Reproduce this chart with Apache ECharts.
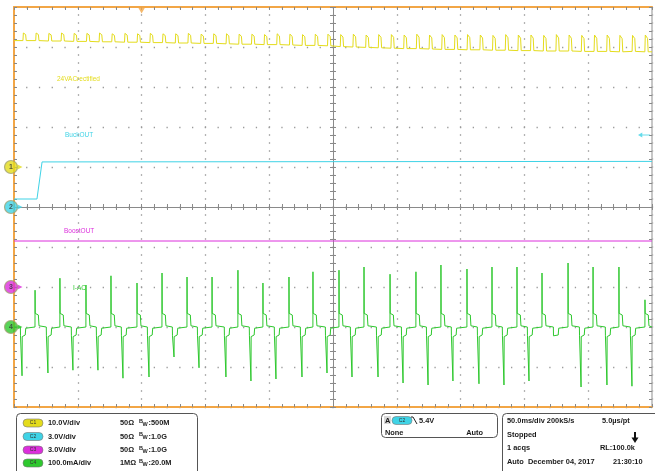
<!DOCTYPE html>
<html><head><meta charset="utf-8">
<script src="https://cdn.jsdelivr.net/npm/echarts@6.0.0/dist/echarts.min.js"></script>
<style>html,body{margin:0;padding:0;background:#fff}#c{width:655px;height:471px}</style>
</head><body><div id="c"></div>
<script>
// ---- scope settings ----
const timePerDiv = 50;          // ms/div
const centerTime = 150;         // ms at screen centre (trigger at -3 div)
const triggerTime = 0;
const channelNames = ['24VACrectified', 'BuckOUT', 'BoostOUT', 'I-AC'];
const channelScales = [10, 3, 3, 100];     // V/div, V/div, V/div, mA/div
const channelOffsets = [1, 0, -2, -3];     // ground position in divisions
const channelColors = ['#e4dc1c', '#3fd3e6', '#dc2edc', '#2ec82e'];
const triggerLevel = 5.4;                  // V on C2

// ---- C1: 24VAC rectified (V) ----
const c1PulseTimes = [-93,-83,-73,-63.1,-53.2,-43.2,-33.3,-23.4,-13.4,-3.5,
  6.5,16.4,26.4,36.3,46.3,56.2,66.2,76.1,86.1,96,
  105.9,115.9,125.8,135.8,145.7,155.7,165.6,175.6,185.5,195.4,
  205.4,215.3,225.3,235.2,245.2,255.1,265.1,275,285,294.9,
  304.8,314.8,324.7,334.7,344.6,354.6,364.5,374.5,384.4,394.4];
const c1Base = [31.6,31.6,31.5,31.5,31.4,31.4,31.3,31.3,31.2,31.2,
  31.1,31.1,31.0,31.0,30.9,30.9,30.8,30.7,30.7,30.6,
  30.6,30.5,30.4,30.4,30.3,30.1,30.0,29.9,29.8,29.7,
  29.6,29.6,29.5,29.4,29.4,29.3,29.3,29.2,29.2,29.1,
  29.1,29.0,29.0,29.0,28.9,28.9,28.9,28.8,28.9,28.8];
const c1Top = [33.5,33.5,33.4,33.5,33.4,33.4,33.5,33.3,33.4,33.3,
  33.4,33.3,33.3,33.4,33.2,33.3,33.3,33.2,33.2,33.1,
  33.3,33.2,33.1,33.2,33.2,33.1,33.2,33.0,33.1,33.1,
  33.0,33.2,33.0,33.1,33.0,33.1,33.0,32.9,33.1,33.0,
  33.0,32.9,33.1,33.0,32.9,33.0,33.0,32.9,32.9,33.0];

// ---- C2: BuckOUT (V) ----
const c2Points = [[-100, 0.6], [-82, 0.6], [-78, 3.38], [400, 3.42]];
// ---- C3: BoostOUT (V) ----
const c3Points = [[-100, 3.45], [400, 3.45]];

// ---- C4: I-AC (mA) ----
const c4PosTimes = [-83.5,-64,-43.6,-24,-3.6,16,35.6,55.2,75.5,95.1,115.5,134.3,154.7,
  174.3,194.7,215,234.6,255,274.6,294.2,313.8,334.2,353.8,374.1,394.5];
const c4PosPeaks = [92,122,105,128,110,135,125,125,142,110,125,138,142,
  150,132,138,155,145,150,150,135,160,150,150,68];
const c4NegTimes = [-93.7,-73.4,-53.8,-34.2,-14.6,5.8,25.4,45,66.1,85.7,105.3,125.7,145.3,
  164.9,185.3,204.9,224.5,244,264.4,284,303.6,324,344.4,364.7,384.3];
const c4NegPeaks = [-122,-115,-108,-108,-128,-125,-75,-102,-125,-135,-130,-125,-115,
  -125,-125,-140,-145,-135,-142,-145,-135,-22,-150,-145,-148];

// ---- conversion to screen divisions (scope display model) ----
const tx = t => (t - centerTime) / timePerDiv;
const vy = (v, ch) => v / channelScales[ch] + channelOffsets[ch];

function buildC1() {
  const pts = [[-100, c1Base[0]]];
  c1PulseTimes.forEach((t, i) => {
    const b = c1Base[i], top = c1Top[i], h = top - b;
    pts.push([t, b], [t + 0.35, top], [t + 0.8, top - 0.08 * h], [t + 2.1, top - 0.2 * h], [t + 2.6, b]);
  });
  pts.push([400, c1Base[c1Base.length - 1]]);
  return pts.map(p => [tx(p[0]), vy(p[1], 0)]);
}
function buildC4() {
  const ev = [];
  c4PosTimes.forEach((t, i) => ev.push({t, v: c4PosPeaks[i], pos: true}));
  c4NegTimes.forEach((t, i) => ev.push({t, v: c4NegPeaks[i], pos: false}));
  ev.sort((a, b) => a.t - b.t);
  const pts = [[-100, 0]];
  ev.forEach(e => {
    const t = e.t;
    if (e.pos) {
      pts.push([t - 0.05, 0], [t, e.v], [t + 0.15, 34], [t + 2.6, 30], [t + 3.1, 3], [t + 3.6, 0]);
    } else {
      pts.push([t - 1.3, 0], [t - 1.2, -22], [t - 0.1, -24], [t, e.v], [t + 0.15, -24], [t + 2.5, -20], [t + 2.9, -3], [t + 3.5, 0]);
    }
  });
  pts.push([400, 0]);
  return pts.map(p => [tx(p[0]), vy(p[1], 3)]);
}

const ORANGE = '#f2a646';
const GRID = '#9a9a9a';
function edgeAxis(pos, color) {
  return {
    type: 'value', min: -5, max: 5, interval: 1, position: pos,
    axisLine: {show: true, onZero: false, lineStyle: {color: color || ORANGE, width: 2}},
    axisTick: {show: true, inside: true, length: 3, lineStyle: {color: '#888'}},
    minorTick: {show: true, splitNumber: 5, length: 3, lineStyle: {color: '#888'}},
    axisLabel: {show: false}, splitLine: {show: false}
  };
}
function centerAxis(pos) {
  return {
    type: 'value', min: -5, max: 5, interval: 1, position: pos,
    axisLine: {show: true, onZero: true, onZeroAxisIndex: 0, lineStyle: {color: '#8a8a8a', width: 1}},
    axisTick: {show: true, inside: true, length: 3, lineStyle: {color: '#8a8a8a'}},
    minorTick: {show: true, splitNumber: 5, length: 3, lineStyle: {color: '#8a8a8a'}},
    axisLabel: {show: false}, splitLine: {show: false}
  };
}
const xA0 = edgeAxis('bottom');
xA0.splitLine = {show: true, lineStyle: {color: GRID, width: 1.3, type: [1.3, 6.7], dashOffset: 0.65}};
const yA0 = edgeAxis('left');
yA0.splitLine = {show: true, lineStyle: {color: GRID, width: 1.3, type: [1.3, 11.46], dashOffset: 0.65}};
const yA1 = edgeAxis('right', '#b4b4b4');
yA1.axisLine.lineStyle.width = 1.5;

const lineSeries = (data, color) => ({
  type: 'line', data, showSymbol: false, symbol: 'none', sampling: null,
  lineStyle: {color, width: 1}, silent: true, z: 3
});

const markerData = channelOffsets.map((o, i) => ({
  value: [-5, o], itemStyle: {color: channelColors[i], borderColor: '#a0a070', borderWidth: 1.2},
  label: {show: true, formatter: String(i + 1)}
}));
const arrowData = channelOffsets.map((o, i) => ({value: [-5, o], itemStyle: {color: channelColors[i]}}));

const FONT = 'bold 7.4px "Liberation Sans", Arial, sans-serif';
const txt = (x, y, s, o) => ({type: 'text', x, y, style: Object.assign({text: s, fill: '#1a1a1a', font: FONT, verticalAlign: 'middle'}, o || {})});
const pill = (x, y, label, color) => [
  {type: 'rect', shape: {x, y: y - 4, width: 20, height: 8, r: 4}, style: {fill: color, stroke: '#777', lineWidth: 0.6}},
  {type: 'text', x: x + 10, y, style: {text: label, fill: '#333', font: '5px "Liberation Sans", Arial', align: 'center', verticalAlign: 'middle'}}
];
const scaleLabels = ['10.0V/div', '3.0V/div', '3.0V/div', '100.0mA/div'];
const impedance = ['50Ω', '50Ω', '50Ω', '1MΩ'];
const bandwidth = [':500M', ':1.0G', ':1.0G', ':20.0M'];
const rowsY = [423, 436.5, 450, 463];

const graphics = [];
// channel trace labels
const labelPos = [[57, 79], [65, 135], [64, 231], [73, 288]];
channelNames.forEach((n, i) => graphics.push({type: 'text', x: labelPos[i][0], y: labelPos[i][1], style: {text: n, fill: channelColors[i], font: '6.5px "Liberation Sans", Arial, sans-serif', verticalAlign: 'middle'}}));
// left info box
graphics.push({type: 'rect', shape: {x: 16.5, y: 413.5, width: 181, height: 64, r: 4}, style: {fill: 'none', stroke: '#555', lineWidth: 1}});
rowsY.forEach((y, i) => {
  graphics.push(...pill(23, y, 'C' + (i + 1), channelColors[i]));
  graphics.push(txt(48, y, scaleLabels[i]));
  graphics.push(txt(120, y, impedance[i]));
  graphics.push(txt(139, y - 2, 'B', {font: 'bold 5.5px "Liberation Sans", Arial'}));
  graphics.push(txt(142.5, y + 1, 'W', {font: 'bold 5.5px "Liberation Sans", Arial'}));
  graphics.push(txt(148.5, y, bandwidth[i]));
});
// trigger box
graphics.push({type: 'rect', shape: {x: 381.5, y: 413.5, width: 116, height: 24, r: 4}, style: {fill: 'none', stroke: '#555', lineWidth: 1}});
graphics.push({type: 'rect', shape: {x: 384, y: 416, width: 7, height: 8}, style: {fill: '#d8d8d8'}});
graphics.push(txt(385, 420.5, 'A'));
graphics.push(...pill(392, 420.5, 'C2', channelColors[1]));
graphics.push({type: 'polyline', shape: {points: [[411, 417], [413, 417], [417, 424]]}, style: {stroke: '#222', lineWidth: 1, fill: 'none'}});
graphics.push(txt(419, 420.5, triggerLevel.toFixed(1) + 'V'));
graphics.push(txt(385, 433, 'None'));
graphics.push(txt(483, 433, 'Auto', {align: 'right'}));
// acquisition box
graphics.push({type: 'rect', shape: {x: 502.5, y: 413.5, width: 160, height: 64, r: 4}, style: {fill: 'none', stroke: '#555', lineWidth: 1}});
graphics.push(txt(507, 421, timePerDiv.toFixed(1) + 'ms/div 200kS/s'));
graphics.push(txt(602, 421, '5.0µs/pt'));
graphics.push(txt(507, 434.5, 'Stopped'));
graphics.push({type: 'rect', shape: {x: 634, y: 432, width: 2, height: 6}, style: {fill: '#111'}});
graphics.push({type: 'polygon', shape: {points: [[631.5, 437.5], [638.5, 437.5], [635, 443]]}, style: {fill: '#111'}});
graphics.push(txt(507, 448, '1 acqs'));
graphics.push(txt(600, 448, 'RL:100.0k'));
graphics.push(txt(507, 461.5, 'Auto'));
graphics.push(txt(528, 461.5, 'December 04, 2017'));
graphics.push(txt(613, 461.5, '21:30:10'));

const chart = echarts.init(document.getElementById('c'), null, {renderer: 'canvas'});
chart.setOption({
  animation: false,
  backgroundColor: '#fff',
  grid: {left: 14, top: 7, right: 3, bottom: 64, containLabel: false},
  xAxis: [xA0, edgeAxis('top'), centerAxis('bottom'), centerAxis('top')],
  yAxis: [yA0, yA1, centerAxis('left'), centerAxis('right')],
  series: [
    lineSeries(buildC1(), channelColors[0]),
    lineSeries(c2Points.map(p => [tx(p[0]), vy(p[1], 1)]), channelColors[1]),
    lineSeries(c3Points.map(p => [tx(p[0]), vy(p[1], 2)]), channelColors[2]),
    lineSeries(buildC4(), channelColors[3]),
    {type: 'scatter', data: markerData, symbol: 'circle', symbolSize: 13, symbolOffset: [-3, 0], clip: false, z: 6, silent: true,
     label: {show: true, position: 'inside', color: '#333', fontSize: 7, fontWeight: 'bold'}},
    {type: 'scatter', data: arrowData, symbol: 'triangle', symbolRotate: -90, symbolSize: [5, 5], symbolOffset: [6, 0], clip: false, z: 6, silent: true},
    {type: 'scatter', data: [[tx(triggerTime), 5]], symbol: 'triangle', symbolRotate: 180, symbolSize: [8, 7], symbolOffset: [0, 3], clip: false, z: 6, silent: true, itemStyle: {color: ORANGE}},
    {type: 'scatter', data: [[5, vy(triggerLevel, 1)]], symbol: 'path://M0,3 L5,0 L5,2.4 L14,2.4 L14,3.6 L5,3.6 L5,6 Z', symbolSize: [12, 5], symbolOffset: [-8, 0], clip: false, z: 6, silent: true, itemStyle: {color: channelColors[1]}}
  ],
  graphic: graphics
});
</script></body></html>
